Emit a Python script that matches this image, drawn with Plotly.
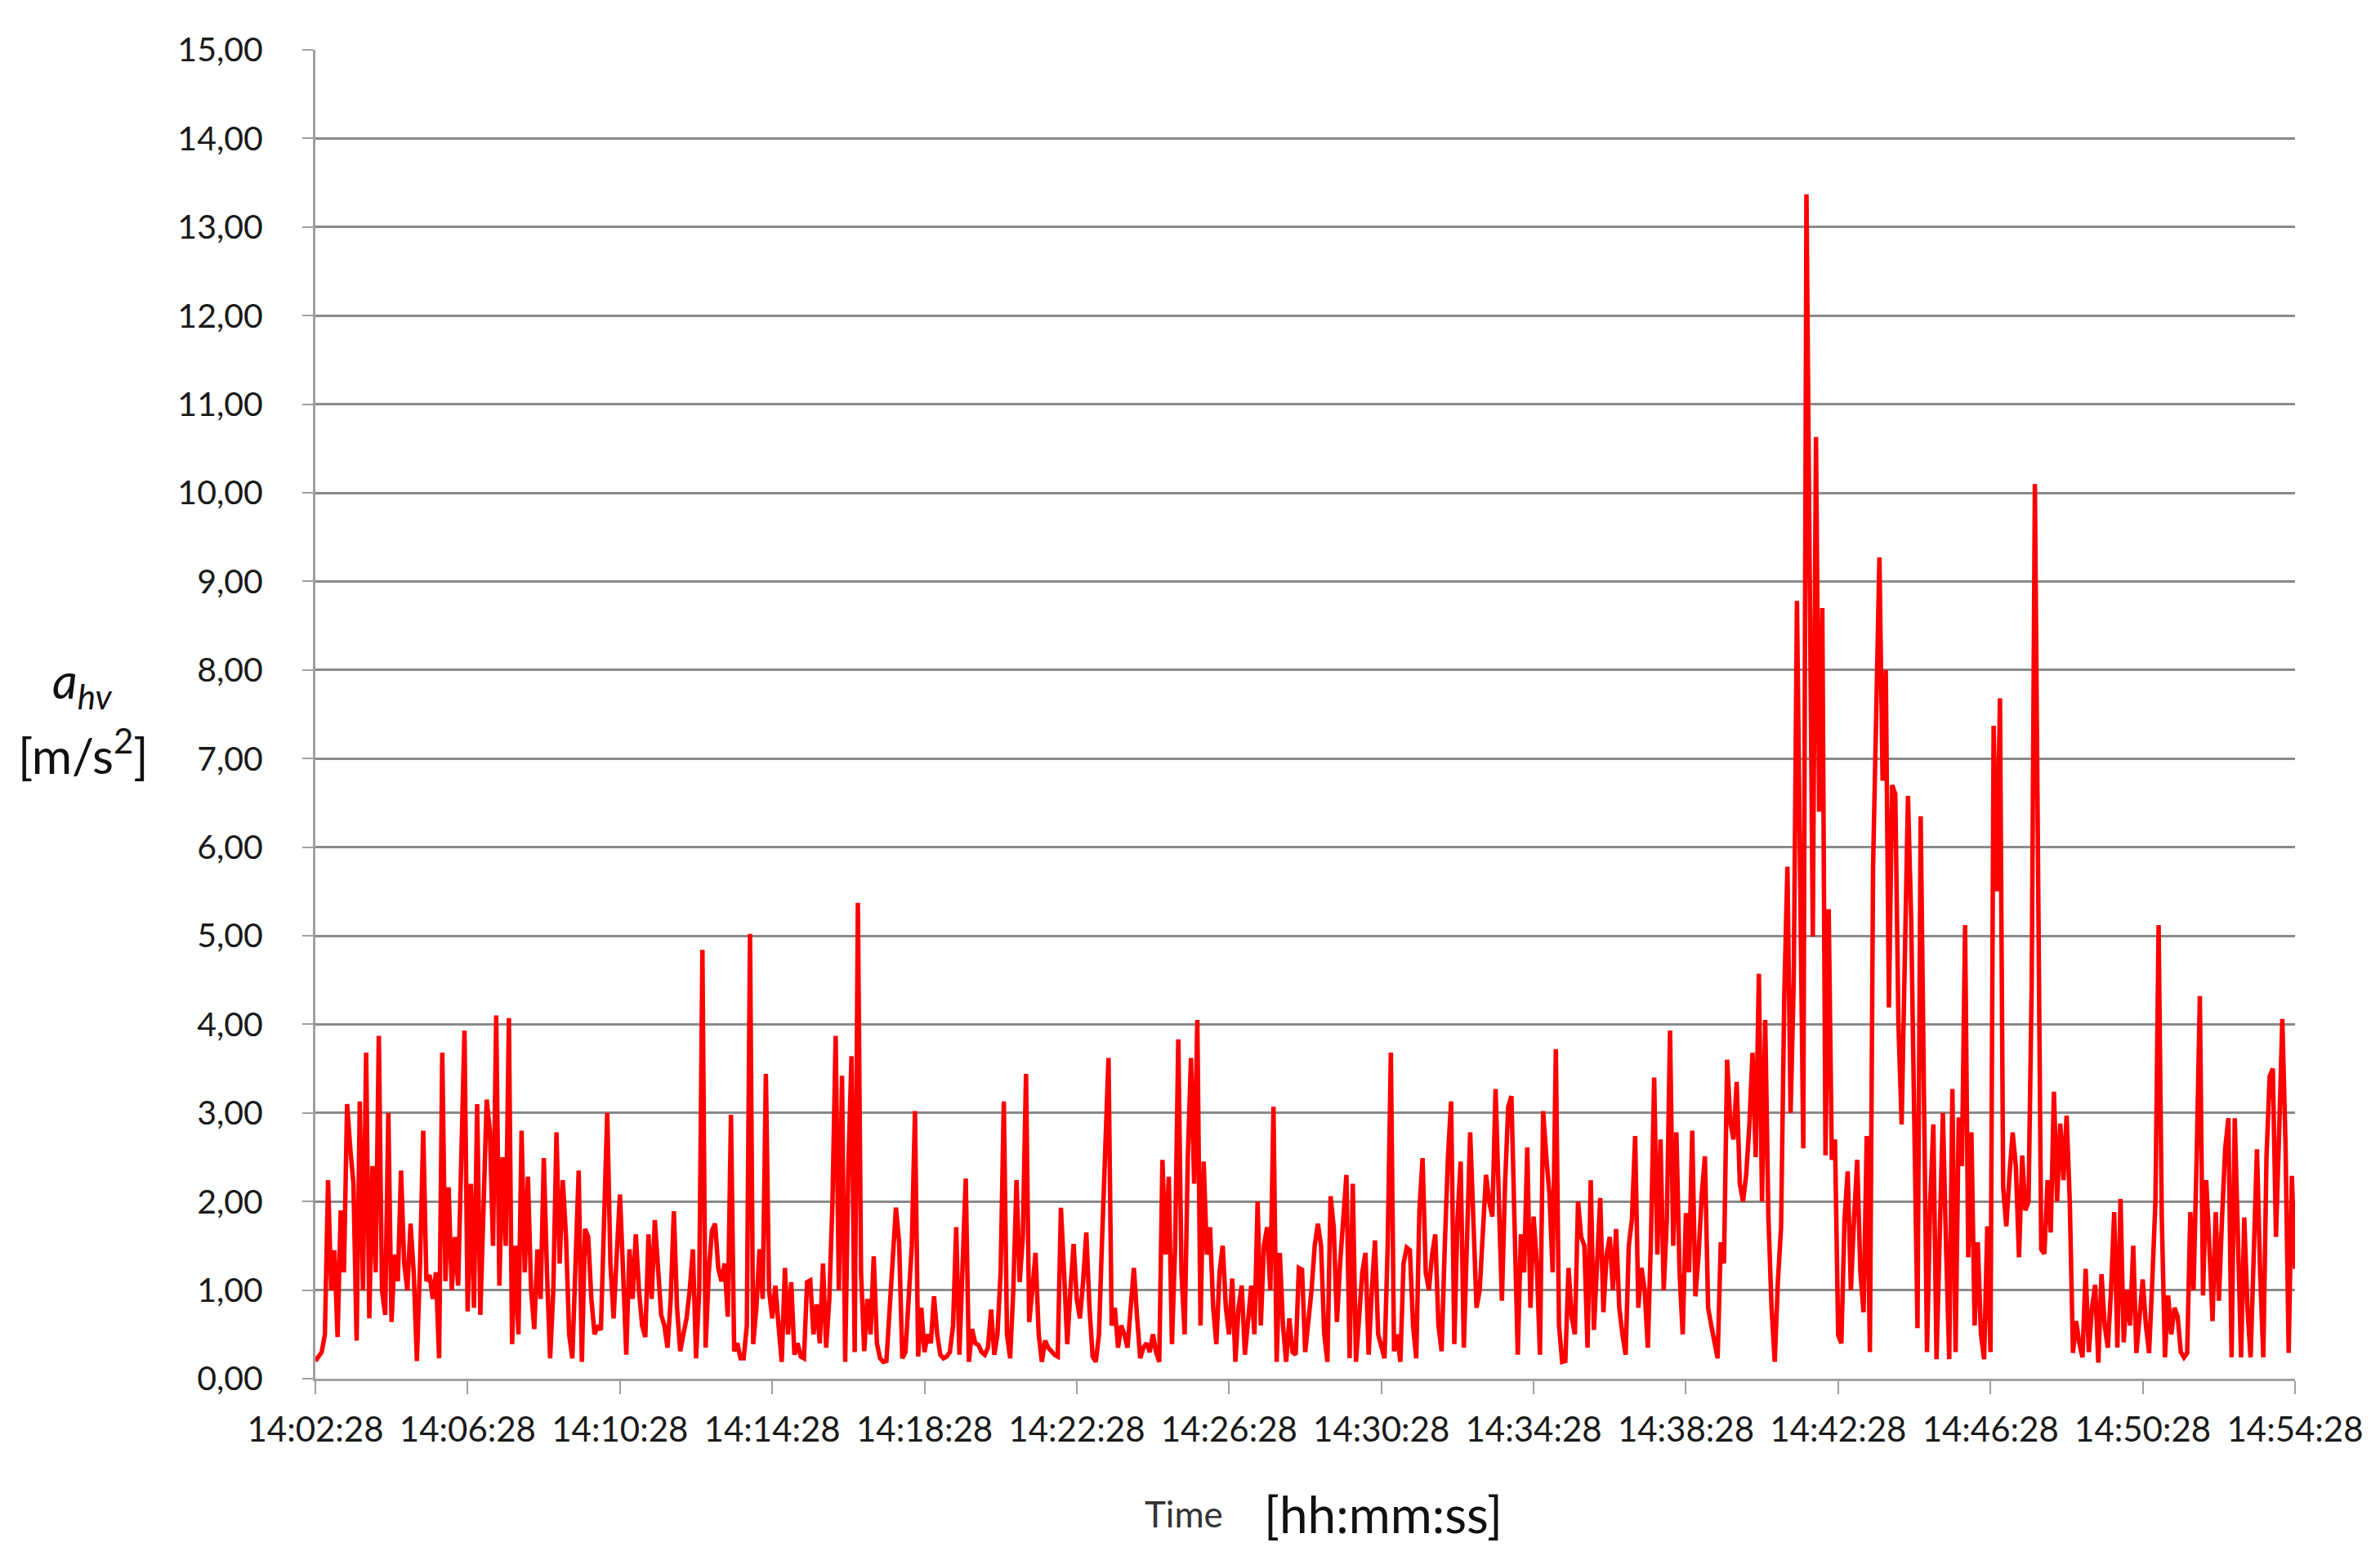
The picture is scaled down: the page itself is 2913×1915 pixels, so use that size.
import pandas as pd
import plotly.graph_objects as go

# ---- data (a_hv in m/s^2, one reading every 5 s from 14:02:28) ----
start_time = "2019-01-01 14:02:28"
sample_step = "5s"

seg_a = [0.2,0.25,0.3,0.5,2.24,1.0,1.45,0.47,1.9,1.2,
         3.1,2.6,2.2,0.43,3.13,1.0,3.68,0.68,2.4,1.2,
         3.87,1.0,0.72,3.0,0.64,1.4,1.1,2.35,1.3,1.0,
         1.75,1.2,0.2,1.3,2.8,1.1,1.17,0.9,1.2,0.23,
         3.68,1.1,2.16,1.0,1.6,1.05,2.4,3.93,0.76,2.2,
         0.8,3.1,0.72,2.0,3.15,2.8,1.5,4.1,1.05,2.5,
         1.5,4.07,0.39,1.5,0.5,2.8,1.2,2.28,1.0,0.56,
         1.46,0.9,2.49,1.2,0.23,1.0,2.78,1.3,2.24]
seg_b = [1.6,0.5,0.23,1.5,2.35,0.19,1.69,1.6,0.9,0.5,
         0.6,0.55,1.6,3.0,1.3,0.68,1.4,2.08,1.2,0.27,
         1.46,0.9,1.63,1.0,0.6,0.47,1.63,0.9,1.79,1.2,
         0.72,0.6,0.35,0.9,1.89,0.8,0.31,0.5,0.68,1.0,
         1.46,0.23,1.0,4.84,0.35,1.2,1.67,1.75,1.25,1.1,
         1.3,0.7,2.98,0.31,0.4,0.23,0.23,0.6,5.02,0.39,
         0.8,1.46,0.9,3.44,1.0,0.68,1.05,0.6,0.19,1.25,
         0.5,1.09,0.27,0.4,0.25,0.23,1.09]
seg_c = [1.11,0.5,0.84,0.4,1.3,0.35,0.9,2.0,3.87,1.0,
         3.42,0.19,2.4,3.64,0.3,5.37,1.2,0.31,0.9,0.5,
         1.38,0.4,0.23,0.19,0.2,0.76,1.3,1.93,1.54,0.23,
         0.3,0.84,1.5,3.02,0.25,0.8,0.3,0.5,0.4,0.93,
         0.5,0.27,0.23,0.25,0.3,0.6,1.71,0.27,1.3,2.26,
         0.19,0.56,0.4,0.38,0.3,0.27,0.35,0.78,0.27,0.5,
         1.2,3.13,0.5,0.23,1.0,2.24,1.09,1.6,3.44,0.64,
         1.0,1.42,0.5,0.19,0.43,0.35,0.31]
seg_d = [0.27,0.25,1.93,1.2,0.39,1.0,1.52,0.9,0.68,1.1,
         1.65,0.8,0.25,0.19,0.5,1.6,2.8,3.62,0.6,0.8,
         0.35,0.6,0.5,0.35,0.8,1.25,0.7,0.23,0.35,0.4,
         0.3,0.5,0.3,0.19,2.47,1.4,2.28,0.39,1.5,3.83,
         1.2,0.5,2.5,3.62,2.2,4.05,0.6,2.45,1.4,1.71,
         0.8,0.39,1.2,1.5,0.8,0.5,1.13,0.19,0.8,1.05,
         0.27,0.7,1.05,0.5,2.0,0.6,1.5,1.71,1.0,3.07,
         0.19,1.42,0.6,0.19,0.68,0.3,0.27,1.25]
seg_e = [1.23,0.3,0.6,1.0,1.5,1.75,1.5,0.5,0.19,2.06,
         1.71,0.64,1.3,1.8,2.3,0.23,2.2,0.19,0.8,1.2,
         1.42,0.27,1.0,1.56,0.5,0.35,0.23,1.5,3.68,0.31,
         0.5,0.19,1.3,1.48,1.45,0.6,0.23,1.9,2.49,1.2,
         1.0,1.4,1.63,0.6,0.31,1.5,2.5,3.13,0.39,1.8,
         2.45,0.35,1.6,2.78,1.8,0.8,1.0,1.6,2.3,2.0,
         1.83,3.27,2.0,0.88,2.2,3.07,3.19,1.5,0.27,1.63,
         1.2,2.61,0.8,1.83,1.3,0.27,3.02]
seg_f = [2.5,2.08,1.2,3.72,0.6,0.19,0.2,1.25,0.7,0.5,
         2.0,1.6,1.5,0.35,2.24,0.55,1.3,2.04,0.75,1.4,
         1.6,1.0,1.69,0.8,0.5,0.27,1.5,1.8,2.74,0.8,
         1.25,1.0,0.35,1.6,3.4,1.4,2.7,1.0,1.8,3.93,
         1.5,2.78,1.2,0.5,1.87,1.2,2.8,0.93,1.4,2.08,
         2.51,0.8,0.6,0.4,0.23,1.54,1.3,3.6,2.9,2.7,
         3.35,2.2,2.0,2.3,2.86,3.68,2.5,4.57,2.0,4.05,
         1.83,0.8,0.19,1.1,1.71,4.3,5.78]
seg_g = [3.0,4.5,8.78,5.5,2.6,13.37,9.5,4.99,10.63,6.4,
         8.7,2.52,5.3,2.47,2.7,0.49,0.4,1.8,2.34,1.0,
         1.8,2.47,1.2,0.75,2.74,0.3,5.78,7.5,9.27,6.75,
         8.0,4.19,6.7,6.6,4.0,2.87,5.0,6.58,5.2,3.13,
         0.57,6.35,3.3,0.3,2.0,2.87,0.22,1.8,3.0,1.5,
         0.22,3.27,0.3,2.95,2.4,5.12,1.37,2.78,0.6,1.54,
         0.5,0.22,1.72,0.3,7.37,5.5,7.68,2.16,1.72,2.3,
         2.78,2.4,1.37,2.52,1.9,2.0,4.46,10.1,6.0,1.46]
seg_h = [1.41,2.24,1.65,3.24,2.0,2.88,2.24,2.97,2.0,0.29,
         0.65,0.4,0.24,1.24,0.3,0.8,1.06,0.18,1.18,0.6,
         0.35,1.0,1.88,0.35,2.03,0.41,1.0,0.6,1.5,0.29,
         0.7,1.12,0.6,0.29,1.1,2.0,5.12,1.82,0.24,0.94,
         0.5,0.8,0.7,0.3,0.24,0.29,1.88,1.0,2.5,4.32,
         0.94,2.24,1.5,0.65,1.88,0.88,1.82,2.6,2.94,0.24,
         2.94,1.6,0.24,1.82,0.8,0.24,1.35,2.59,1.2,0.24,
         2.5,3.41,3.5,1.6,2.8,4.06,2.65,0.29,2.29,1.24]

tick_labels = ["14:02:28", "14:06:28", "14:10:28", "14:14:28", "14:18:28",
               "14:22:28", "14:26:28", "14:30:28", "14:34:28", "14:38:28",
               "14:42:28", "14:46:28", "14:50:28", "14:54:28"]
y_ticks = list(range(0, 16))

values = seg_a + seg_b + seg_c + seg_d + seg_e + seg_f + seg_g + seg_h
times = pd.date_range(start=start_time, periods=len(values), freq=sample_step)
day = start_time.split(" ")[0]
tick_vals = [f"{day} {t}" for t in tick_labels]

FONT = "Lato"
W, H = 2913, 1915
OFF = 8  # page offset of the figure inside the browser window
L, R, T, B = 386 - OFF, 104 + OFF, 61 - OFF, 228 + OFF
pw, ph = W - L - R, H - T - B

def px_x(px):
    return (px - OFF - L) / pw

def px_y(py):
    return (H - B - (py - OFF)) / ph

fig = go.Figure()
fig.add_trace(go.Scatter(
    x=times, y=values, mode="lines",
    line=dict(color="#ff0000", width=5.5),
    showlegend=False, hoverinfo="skip",
))

fig.update_layout(
    width=W, height=H,
    margin=dict(l=L, r=R, t=T, b=B),
    paper_bgcolor="white", plot_bgcolor="white",
    separators=",.",
    font=dict(family=FONT, size=42, color="#222222"),
    xaxis=dict(
        type="date",
        range=[tick_vals[0], tick_vals[-1]],
        tickvals=tick_vals, ticktext=tick_labels,
        showgrid=False, zeroline=False,
        showline=True, linecolor="#a0a0a0", linewidth=3,
        ticks="outside", ticklen=16, tickwidth=2, tickcolor="#a0a0a0",
        tickfont=dict(family=FONT, size=42, color="#1a1a1a"),
        ticklabelstandoff=8,
    ),
    yaxis=dict(
        range=[0, 15],
        tickvals=y_ticks, tickformat=".2f",
        showgrid=True, gridcolor="#8a8a8a", gridwidth=2.5,
        zeroline=False,
        showline=True, linecolor="#a0a0a0", linewidth=3,
        ticks="outside", ticklen=13, tickwidth=2, tickcolor="#a0a0a0",
        tickfont=dict(family=FONT, size=41, color="#1a1a1a"),
        ticklabelstandoff=40,
    ),
)

annotations = [
    dict(text="<i>a</i><sub><i>hv</i></sub>", x=px_x(100), y=px_y(836),
         font=dict(family=FONT, size=60, color="#111111")),
    dict(text="[m/s<sup>2</sup>]", x=px_x(102), y=px_y(920),
         font=dict(family=FONT, size=60, color="#111111")),
    dict(text="Time", x=px_x(1449), y=px_y(1852),
         font=dict(family=FONT, size=44, color="#333333")),
    dict(text="[hh:mm:ss]", x=px_x(1693), y=px_y(1852),
         font=dict(family=FONT, size=62, color="#111111")),
]
for a in annotations:
    fig.add_annotation(xref="paper", yref="paper", showarrow=False,
                       xanchor="center", yanchor="middle", **a)

fig.write_html("out.html")
